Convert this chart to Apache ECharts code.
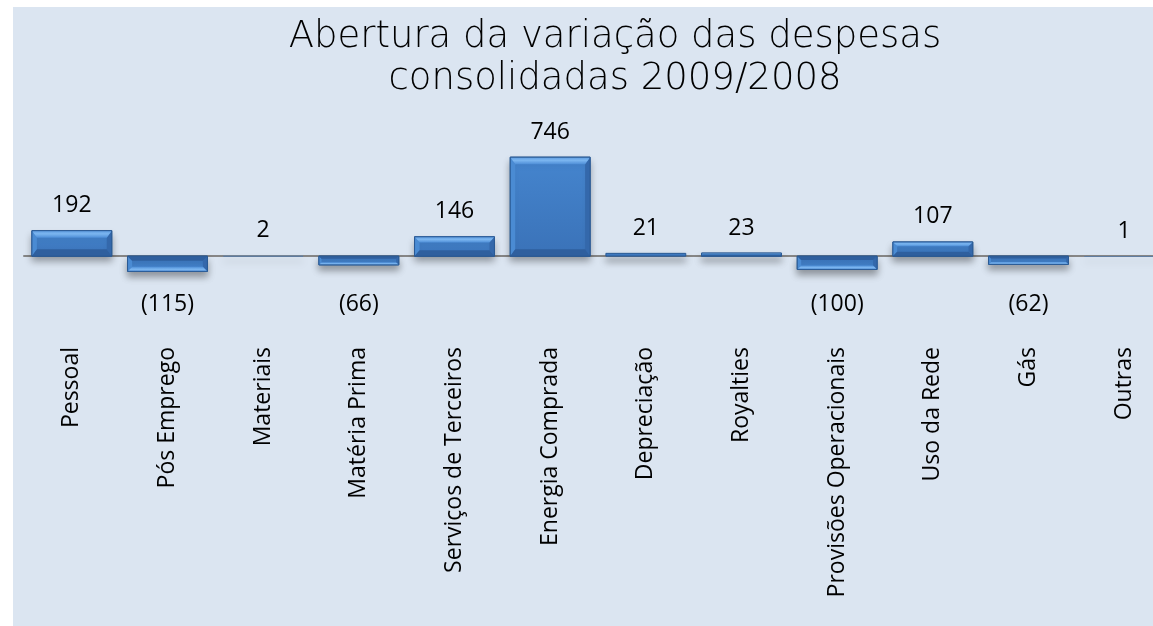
<!DOCTYPE html>
<html>
<head>
<meta charset="utf-8">
<script src="https://cdn.jsdelivr.net/npm/echarts@6/dist/echarts.min.js"></script>
<style>
  html, body { margin: 0; padding: 0; background: #ffffff; }
  #chart { width: 1153px; height: 626px; }
</style>
</head>
<body>
<div id="chart"></div>
<script>
// Expense variation by line item, 2009 vs 2008 (R$ million)
const categories = [
  'Pessoal', 'Pós Emprego', 'Materiais', 'Matéria Prima',
  'Serviços de Terceiros', 'Energia Comprada', 'Depreciação', 'Royalties',
  'Provisões Operacionais', 'Uso da Rede', 'Gás', 'Outras'
];
const variation = [192, -115, 2, -66, 146, 746, 21, 23, -100, 107, -62, 1];

// level (in data units) where labels of negative bars sit
const negativeLabelLevel = -362;

const fmt = v => (v < 0 ? '(' + Math.abs(v) + ')' : String(v));

const chart = echarts.init(document.getElementById('chart'), null, { renderer: 'canvas' });

function renderBevelBar(params, api) {
  const i = api.value(0);
  const v = api.value(1);
  const base = api.coord([i, 0]);
  const end = api.coord([i, v]);
  const w = api.size([1, 0])[0] * 0.835;
  const x = base[0] - w / 2;
  const yB = base[1];
  const yE = end[1];
  const h = Math.abs(yE - yB);
  const dir = v >= 0 ? 1 : -1;           // +1: end above base
  const b = Math.min(7, h * 0.3);         // bevel depth
  const s = Math.min(5, w * 0.1, h * 0.3);
  const top = Math.min(yB, yE);
  const children = [];

  // body
  children.push({
    type: 'rect',
    shape: { x: x, y: top, width: w, height: Math.max(h, 0.6) },
    style: {
      fill: new echarts.graphic.LinearGradient(0, 0, 0, 1, v >= 0
        ? [{ offset: 0, color: '#4585ce' }, { offset: 1, color: '#3a72b8' }]
        : [{ offset: 0, color: '#3a74bb' }, { offset: 1, color: '#4585ce' }]),
      stroke: '#2a5a94',
      lineWidth: h > 2 ? 1 : 0,
      shadowBlur: 7,
      shadowOffsetY: 5,
      shadowColor: 'rgba(0,0,0,0.35)'
    }
  });

  if (h > 3) {
    const yEi = yE + dir * b;   // inner edge at the value end
    const yBi = yB - dir * b;   // inner edge at the base
    // left side
    children.push({
      type: 'polygon',
      shape: { points: [[x, yE], [x + s, yEi], [x + s, yBi], [x, yB]] },
      style: { fill: '#4a8bd3' }
    });
    // right side
    children.push({
      type: 'polygon',
      shape: { points: [[x + w, yE], [x + w - s, yEi], [x + w - s, yBi], [x + w, yB]] },
      style: { fill: '#3468ab' }
    });
    // base bevel (dark)
    children.push({
      type: 'polygon',
      shape: { points: [[x, yB], [x + w, yB], [x + w - s, yBi], [x + s, yBi]] },
      style: { fill: '#2f5f9e' }
    });
    // end bevel (light)
    children.push({
      type: 'polygon',
      shape: { points: [[x, yE], [x + w, yE], [x + w - s, yEi], [x + s, yEi]] },
      style: {
        fill: new echarts.graphic.LinearGradient(0, dir > 0 ? 0 : 1, 0, dir > 0 ? 1 : 0, [
          { offset: 0, color: '#5d9be0' },
          { offset: 0.45, color: '#7cb6f0' },
          { offset: 1, color: '#4f8fd8' }
        ])
      }
    });
    // outline
    children.push({
      type: 'rect',
      shape: { x: x, y: top, width: w, height: h },
      style: { fill: 'none', stroke: '#2a5a94', lineWidth: 1 }
    });
  }

  // value label
  const labelPos = v >= 0
    ? [base[0], yE - 25]
    : [base[0], api.coord([i, negativeLabelLevel])[1]];
  children.push({
    type: 'text',
    x: labelPos[0],
    y: labelPos[1],
    style: {
      text: fmt(v),
      fill: '#000000',
      font: '23px "Open Sans", sans-serif',
      align: 'center',
      verticalAlign: 'middle'
    }
  });

  return { type: 'group', children: children };
}

chart.setOption({
  animation: false,
  backgroundColor: 'transparent',
  graphic: [{
    type: 'rect',
    z: -10,
    silent: true,
    shape: { x: 13, y: 7, width: 1150, height: 630 },
    style: { fill: '#dbe5f1' }
  }],
  title: {
    text: 'Abertura da variação das despesas\nconsolidadas 2009/2008',
    left: 610,
    top: 11,
    textAlign: 'center',
    textStyle: {
      fontFamily: '"DejaVu Sans", sans-serif',
      fontWeight: 200,
      fontSize: 37,
      lineHeight: 42,
      color: '#000000'
    }
  },
  grid: {
    left: 24, top: 150, width: 1148, height: 199,
    containLabel: false,
    outerBoundsMode: 'none'
  },
  xAxis: {
    type: 'category',
    data: categories,
    axisLine: { onZero: true, lineStyle: { color: '#868686', width: 2 } },
    axisTick: { show: false },
    axisLabel: {
      interval: 0,
      rotate: 90,
      margin: -2,
      color: '#000000',
      fontFamily: '"Open Sans", sans-serif',
      fontSize: 23
    },
    z: 1
  },
  yAxis: {
    type: 'value',
    min: -700,
    max: 800,
    show: false,
    splitLine: { show: false }
  },
  series: [{
    type: 'custom',
    renderItem: renderBevelBar,
    data: variation.map((v, i) => [i, v]),
    z: 2
  }]
});
</script>
</body>
</html>
